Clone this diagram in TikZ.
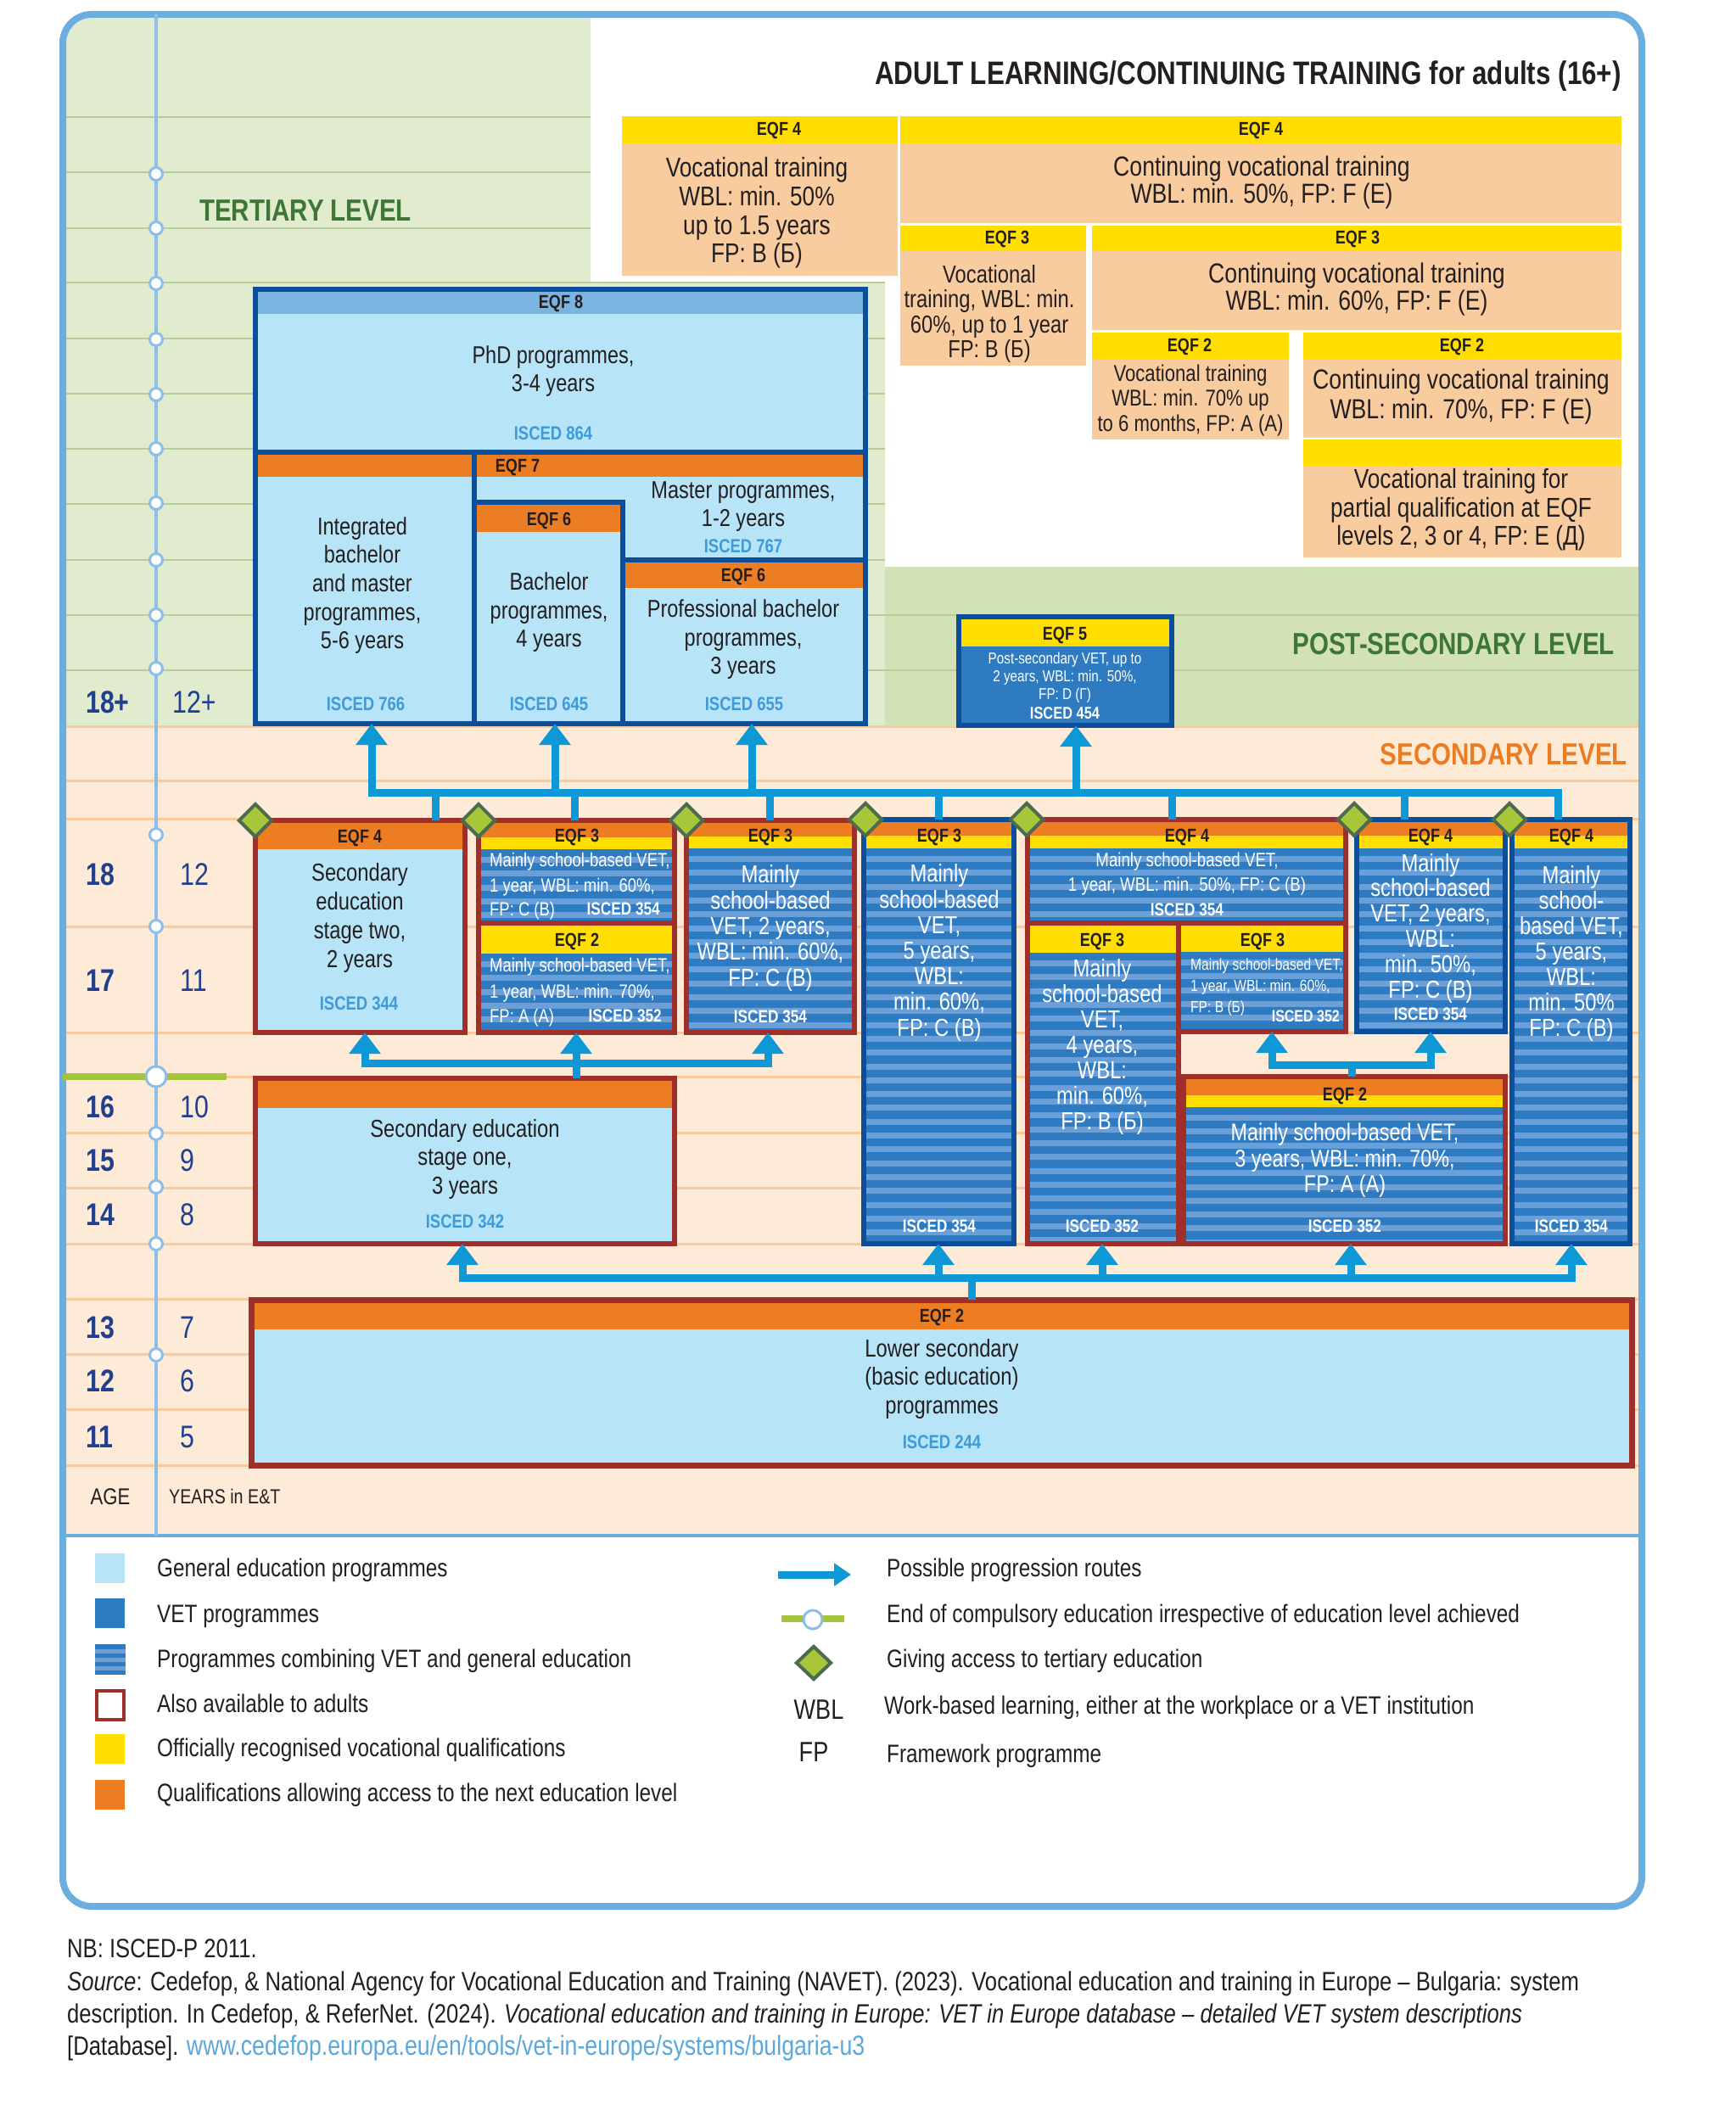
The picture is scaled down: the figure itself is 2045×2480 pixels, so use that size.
\documentclass[tikz,border=0pt]{standalone}
\usepackage{fontspec}
\setmainfont{Liberation Sans}[FakeStretch=0.82]
\usetikzlibrary{arrows.meta,shapes.geometric}

\definecolor{frameblue}{HTML}{6BAEE0}
\definecolor{tertgreen}{HTML}{E1EBCE}
\definecolor{postgreen}{HTML}{D3E2B6}
\definecolor{secpeach}{HTML}{FDEBD7}
\definecolor{gridgreen}{HTML}{B8CC98}
\definecolor{gridpeach}{HTML}{F8CB9F}
\definecolor{axisblue}{HTML}{8DBDE8}
\definecolor{darkblue}{HTML}{0D4E9A}
\definecolor{darkred}{HTML}{9E2F2B}
\definecolor{eqforange}{HTML}{EC7D23}
\definecolor{eqfyellow}{HTML}{FFDE00}
\definecolor{genblue}{HTML}{B8E4F8}
\definecolor{vetblue}{HTML}{2E7BC1}
\definecolor{stripeblue}{HTML}{6A9FD8}
\definecolor{phdblue}{HTML}{7AB4E1}
\definecolor{adultpeach}{HTML}{F8CC9E}
\definecolor{arrowblue}{HTML}{0E99D6}
\definecolor{iscedblue}{HTML}{3C9BD8}
\definecolor{agenavy}{HTML}{203F8F}
\definecolor{levelgreen}{HTML}{3E7635}
\definecolor{levelorange}{HTML}{EC7C23}
\definecolor{diafill}{HTML}{A8C639}
\definecolor{diaborder}{HTML}{4D6B50}
\definecolor{compgreen}{HTML}{A3C43B}
\definecolor{linkblue}{HTML}{5BA8DC}
\definecolor{textblack}{HTML}{231F20}

\newcommand{\fs}[2]{\fontsize{#1}{#2}\selectfont}
\newcommand{\capt}[1]{\raisebox{0pt}[0.716em][0pt]{#1}}
\newcommand{\boxnode}[6]{\node[#1, inner sep=0pt, outer sep=0pt, minimum width={#5-#3}, minimum height={#6-#4}, anchor=north west] (#2) at (#3,#4) {};}
\newcommand{\stripefill}[4]{%
  \begin{scope}
    \clip (#1,#2) rectangle (#3,#4);
    \fill[vetblue] (#1,#2) rectangle (#3,#4);
    \foreach \yy in {0,16.3,...,520}{\fill[stripeblue] (#1,{#2+\yy+9}) rectangle (#3,{#2+\yy+16});}
  \end{scope}}

\begin{document}
\begin{tikzpicture}[x=1pt,y=-1pt,
  bluebox/.style={draw=darkblue, line width=6pt},
  redbox/.style={draw=darkred, line width=6pt},
  eqf/.style={inner sep=0pt, text=textblack, font=\fs{22}{26}\bfseries},
  isced/.style={inner sep=0pt, text=iscedblue, font=\fs{22.5}{26}\bfseries},
  iscedw/.style={inner sep=0pt, text=white, font=\fs{21}{25}\bfseries},
  mtxt/.style={inner sep=0pt, align=center, text=textblack},
  wtxt/.style={inner sep=0pt, align=center, text=white},
  wline/.style={inner sep=0pt, anchor=west, text=white},
  lev/.style={inner sep=0pt, font=\fs{36}{40}\bfseries},
  agen/.style={inner sep=0pt, anchor=west, text=agenavy, font=\fs{37}{40}\bfseries},
  yrs/.style={inner sep=0pt, anchor=west, text=agenavy, font=\fs{37}{40}},
  ring/.style={circle, draw=axisblue, fill=white, line width=3pt, minimum size=15pt, inner sep=0pt},
  bigring/.style={circle, draw=axisblue, fill=white, line width=3pt, minimum size=24pt, inner sep=0pt},
  diam/.style={diamond, draw=diaborder, fill=diafill, line width=4pt, minimum width=40pt, minimum height=40pt, inner sep=0pt},
  conn/.style={draw=arrowblue, line width=9pt},
  arr/.style={conn, -{Triangle[width=36pt,length=25pt]}},
  arrb/.style={conn, {Triangle[width=36pt,length=25pt]}-{Triangle[width=36pt,length=25pt]}},
  legt/.style={inner sep=0pt, anchor=west, text=textblack, font=\fs{29.7}{32}},
  foot/.style={inner sep=0pt, anchor=west, text=textblack, font=\fs{31.3}{34}},
]
\useasboundingbox (0,0) rectangle (2045,2480);
\fill[white] (0,0) rectangle (2045,2480);

% ---------- backgrounds ----------
\begin{scope}
  \clip[rounded corners=34] (74,17) rectangle (1935,2247);
  \fill[tertgreen] (74,17) -- (696,17) -- (696,333) -- (1043,333) -- (1043,856) -- (74,856) -- cycle;
  \fill[postgreen] (1043,668) rectangle (1935,856);
  \fill[secpeach] (74,856) rectangle (1935,1810);
  \foreach \yy in {138,203,269}{\draw[gridgreen, line width=2.5pt] (74,\yy) -- (696,\yy);}
  \foreach \yy in {333,399,464,529,594,660}{\draw[gridgreen, line width=2.5pt] (74,\yy) -- (1043,\yy);}
  \foreach \yy in {725,790}{\draw[gridgreen, line width=2.5pt] (74,\yy) -- (1935,\yy);}
  \foreach \yy in {856,920,965,1092,1217,1269,1335,1400,1466,1531,1596,1661,1727}{\draw[gridpeach, line width=3pt] (74,\yy) -- (1935,\yy);}
\end{scope}
\draw[frameblue, line width=4pt] (74,1810) -- (1935,1810);
\draw[frameblue, line width=8pt, rounded corners=34] (74,17) rectangle (1935,2247);

% ---------- age axis ----------
\draw[axisblue, line width=4pt] (184,17) -- (184,1810);
\draw[compgreen, line width=8pt] (74,1269) -- (267,1269);
\foreach \yy [count=\i] in {205,269,334,400,465,529,593,660,725,788,984,1092,1336,1399,1466,1597}{\node[ring] (ax\i) at (184,\yy) {};}
\node[bigring] (axc) at (184,1269) {};

\node[agen] (a18p) at (101,827) {\capt{18+}};
\node[yrs] (y12p) at (203,827) {\capt{12+}};
\node[agen] (a18) at (101,1030) {\capt{18}};
\node[yrs] (y12) at (212,1030) {\capt{12}};
\node[agen] (a17) at (101,1155) {\capt{17}};
\node[yrs] (y11) at (212,1155) {\capt{11}};
\node[agen] (a16) at (101,1304) {\capt{16}};
\node[yrs] (y10) at (212,1304) {\capt{10}};
\node[agen] (a15) at (101,1367) {\capt{15}};
\node[yrs] (y9) at (212,1367) {\capt{9}};
\node[agen] (a14) at (101,1431) {\capt{14}};
\node[yrs] (y8) at (212,1431) {\capt{8}};
\node[agen] (a13) at (101,1564) {\capt{13}};
\node[yrs] (y7) at (212,1564) {\capt{7}};
\node[agen] (a12) at (101,1627) {\capt{12}};
\node[yrs] (y6) at (212,1627) {\capt{6}};
\node[agen] (a11) at (101,1693) {\capt{11}};
\node[yrs] (y5) at (212,1693) {\capt{5}};
\node[inner sep=0pt, font=\fs{27}{30}, text=textblack] (agehd) at (130,1764) {\capt{AGE}};
\node[inner sep=0pt, anchor=west, font=\fs{24}{28}, text=textblack] (yrshd) at (199,1764) {\capt{YEARS in E\&T}};

% ---------- level titles ----------
\node[lev, text=levelgreen, anchor=west] (tertlab) at (235,248) {\capt{TERTIARY LEVEL}};
\node[lev, text=levelgreen, anchor=east] (postlab) at (1903,759) {\capt{POST-SECONDARY LEVEL}};
\node[lev, text=levelorange, anchor=east] (seclab) at (1918,889) {\capt{SECONDARY LEVEL}};
\node[inner sep=0pt, anchor=east, font=\fs{38.3}{41}\bfseries, text=textblack] (title) at (1911,86) {\capt{ADULT LEARNING/CONTINUING TRAINING for adults (16+)}};

% ---------- adult learning ----------
\boxnode{fill=eqfyellow}{a1h}{733}{137}{1058}{169}
\boxnode{fill=adultpeach}{a1}{733}{169}{1058}{325}
\node[eqf] (a1l) at (918,152) {\capt{EQF 4}};
\node[mtxt, font=\fs{32}{33.7}] (a1t) at (892,251) {Vocational training\\WBL: min. 50\%\\up to 1.5 years\\FP: B (Б)};

\boxnode{fill=eqfyellow}{a2h}{1061}{137}{1911}{169}
\boxnode{fill=adultpeach}{a2}{1061}{169}{1911}{263}
\node[eqf] (a2l) at (1486,152) {\capt{EQF 4}};
\node[mtxt, font=\fs{32.5}{32}] (a2t) at (1487,215) {Continuing vocational training\\WBL: min. 50\%, FP: F (E)};

\boxnode{fill=eqfyellow}{a3h}{1061}{266}{1280}{296}
\boxnode{fill=adultpeach}{a3}{1061}{296}{1280}{431}
\node[eqf] (a3l) at (1187,280) {\capt{EQF 3}};
\node[mtxt, font=\fs{29}{29.5}] (a3t) at (1166,370) {Vocational\\training, WBL: min.\\60\%, up to 1 year\\FP: B (Б)};

\boxnode{fill=eqfyellow}{a4h}{1287}{266}{1911}{296}
\boxnode{fill=adultpeach}{a4}{1287}{296}{1911}{389}
\node[eqf] (a4l) at (1600,280) {\capt{EQF 3}};
\node[mtxt, font=\fs{32.5}{32}] (a4t) at (1599,341) {Continuing vocational training\\WBL: min. 60\%, FP: F (E)};

\boxnode{fill=eqfyellow}{a5h}{1287}{392}{1519}{423}
\boxnode{fill=adultpeach}{a5}{1287}{423}{1519}{518}
\node[eqf] (a5l) at (1402,407) {\capt{EQF 2}};
\node[mtxt, font=\fs{27}{29.5}] (a5t) at (1403,472) {Vocational training\\WBL: min. 70\% up\\to 6 months, FP: A (A)};

\boxnode{fill=eqfyellow}{a6h}{1536}{392}{1911}{423}
\boxnode{fill=adultpeach}{a6}{1536}{423}{1911}{516}
\node[eqf] (a6l) at (1723,407) {\capt{EQF 2}};
\node[mtxt, font=\fs{32.5}{35}] (a6t) at (1722,468) {Continuing vocational training\\WBL: min. 70\%, FP: F (E)};

\boxnode{fill=eqfyellow}{a7h}{1536}{518}{1911}{549}
\boxnode{fill=adultpeach}{a7}{1536}{549}{1911}{657}
\node[mtxt, font=\fs{32}{33.5}] (a7t) at (1722,601) {Vocational training for\\partial qualification at EQF\\levels 2, 3 or 4, FP: E (Д)};

% ---------- tertiary ----------
\fill[genblue] (301,341) rectangle (1020,853);
\fill[phdblue] (301,341) rectangle (1020,370);
\fill[eqforange] (301,533) rectangle (1020,562);
\fill[eqforange] (559,592) rectangle (734,627);
\fill[eqforange] (734,660) rectangle (1020,693);
\boxnode{bluebox}{tert}{301}{341}{1020}{853}
\draw[darkblue, line width=6pt] (301,533) -- (1020,533);
\draw[darkblue, line width=6pt] (559,533) -- (559,853);
\boxnode{bluebox}{bach}{559}{592}{734}{853}
\boxnode{bluebox}{prof}{734}{660}{1020}{853}
\node[eqf] (t8l) at (661,356) {\capt{EQF 8}};
\node[mtxt, font=\fs{28.7}{33}] (phdt) at (652,438) {PhD programmes,\\3-4 years};
\node[isced] (t864) at (652,510) {\capt{ISCED 864}};
\node[eqf] (t7l) at (610,549) {\capt{EQF 7}};
\node[mtxt, font=\fs{28.7}{33.7}] (intt) at (427,690) {Integrated\\bachelor\\and master\\programmes,\\5-6 years};
\node[isced] (t766) at (431,829) {\capt{ISCED 766}};
\node[eqf] (t6al) at (647,612) {\capt{EQF 6}};
\node[mtxt, font=\fs{28.7}{33.5}] (bacht) at (647,722) {Bachelor\\programmes,\\4 years};
\node[isced] (t645) at (647,829) {\capt{ISCED 645}};
\node[mtxt, font=\fs{28.7}{33}] (mastt) at (876,597) {Master programmes,\\1-2 years};
\node[isced] (t767) at (876,643) {\capt{ISCED 767}};
\node[eqf] (t6bl) at (876,678) {\capt{EQF 6}};
\node[mtxt, font=\fs{28.7}{33.5}] (proft) at (876,754) {Professional bachelor\\programmes,\\3 years};
\node[isced] (t655) at (877,829) {\capt{ISCED 655}};

% ---------- post-secondary ----------
\fill[vetblue] (1130,727) rectangle (1381,855);
\fill[eqfyellow] (1130,727) rectangle (1381,762);
\boxnode{bluebox}{eqf5}{1130}{727}{1381}{855}
\node[eqf] (e5l) at (1255,747) {\capt{EQF 5}};
\node[wtxt, font=\fs{18.6}{21}] (e5t) at (1255,799) {Post-secondary VET, up to\\2 years, WBL: min. 50\%,\\FP: D (Г)};
\node[iscedw, font=\fs{20}{24}\bfseries] (e5i) at (1255,840) {\capt{ISCED 454}};

% ---------- upper secondary ----------
% A
\fill[genblue] (301,967) rectangle (548,1217);
\fill[eqforange] (301,967) rectangle (548,1001);
\boxnode{redbox}{boxA}{301}{967}{548}{1217}
\node[eqf] (bAl) at (424,986) {\capt{EQF 4}};
\node[mtxt, font=\fs{29}{33.7}] (bAt) at (424,1082) {Secondary\\education\\stage two,\\2 years};
\node[isced] (bAi) at (423,1182) {\capt{ISCED 344}};
% B
\stripefill{564}{1001}{795}{1088}
\stripefill{564}{1124}{795}{1217}
\fill[eqforange] (564,967) rectangle (795,987);
\fill[eqfyellow] (564,987) rectangle (795,1001);
\fill[eqfyellow] (564,1088) rectangle (795,1124);
\boxnode{redbox}{boxB}{564}{967}{795}{1217}
\draw[darkred, line width=6pt] (564,1088) -- (795,1088);
\node[eqf] (bBl1) at (680,985) {\capt{EQF 3}};
\node[wline, font=\fs{22.5}{26}] (bBt1) at (577,1013) {\capt{Mainly school-based VET,}};
\node[wline, font=\fs{22.5}{26}] (bBt2) at (577,1043) {\capt{1 year, WBL: min. 60\%,}};
\node[wline, font=\fs{22.5}{26}] (bBt3) at (577,1071) {\capt{FP: C (B)}};
\node[iscedw, anchor=east] (bBi1) at (778,1071) {\capt{ISCED 354}};
\node[eqf] (bBl2) at (680,1108) {\capt{EQF 2}};
\node[wline, font=\fs{22.5}{26}] (bBt4) at (577,1137) {\capt{Mainly school-based VET,}};
\node[wline, font=\fs{22.5}{26}] (bBt5) at (577,1168) {\capt{1 year, WBL: min. 70\%,}};
\node[wline, font=\fs{22.5}{26}] (bBt6) at (577,1197) {\capt{FP: A (A)}};
\node[iscedw, anchor=east] (bBi2) at (780,1197) {\capt{ISCED 352}};
% C
\stripefill{809}{1000}{1007}{1217}
\fill[eqforange] (809,967) rectangle (1007,986);
\fill[eqfyellow] (809,986) rectangle (1007,1000);
\boxnode{redbox}{boxC}{809}{967}{1007}{1217}
\node[eqf] (bCl) at (908,985) {\capt{EQF 3}};
\node[wtxt, font=\fs{29}{30.3}] (bCt) at (908,1094) {Mainly\\school-based\\VET, 2 years,\\WBL: min. 60\%,\\FP: C (B)};
\node[iscedw] (bCi) at (908,1198) {\capt{ISCED 354}};
% D
\stripefill{1018}{1000}{1195}{1466}
\fill[eqforange] (1018,966) rectangle (1195,985);
\fill[eqfyellow] (1018,985) rectangle (1195,1000);
\boxnode{bluebox}{boxD}{1018}{966}{1195}{1466}
\node[eqf] (bDl) at (1107,985) {\capt{EQF 3}};
\node[wtxt, font=\fs{29}{30.2}] (bDt) at (1107,1123) {Mainly\\school-based\\VET,\\5 years,\\WBL:\\min. 60\%,\\FP: C (B)};
\node[iscedw] (bDi) at (1107,1445) {\capt{ISCED 354}};
% E
\stripefill{1211}{1000}{1586}{1088}
\fill[eqforange] (1211,966) rectangle (1586,985);
\fill[eqfyellow] (1211,985) rectangle (1586,1000);
\stripefill{1211}{1123}{1389}{1466}
\fill[eqfyellow] (1211,1088) rectangle (1389,1123);
\stripefill{1389}{1122}{1586}{1216}
\fill[eqfyellow] (1389,1088) rectangle (1586,1122);
\boxnode{redbox}{boxE}{1211}{966}{1586}{1088}
\boxnode{redbox}{boxEa}{1211}{1088}{1389}{1466}
\boxnode{redbox}{boxEb}{1389}{1088}{1586}{1216}
\node[eqf] (bEl) at (1399,985) {\capt{EQF 4}};
\node[wtxt, font=\fs{22.8}{29}] (bEt) at (1399,1030) {Mainly school-based VET,\\1 year, WBL: min. 50\%, FP: C (B)};
\node[iscedw] (bEi) at (1399,1072) {\capt{ISCED 354}};
\node[eqf] (bEal) at (1299,1108) {\capt{EQF 3}};
\node[wtxt, font=\fs{29}{30}] (bEat) at (1299,1234) {Mainly\\school-based\\VET,\\4 years,\\WBL:\\min. 60\%,\\FP: B (Б)};
\node[iscedw] (bEai) at (1299,1445) {\capt{ISCED 352}};
\node[eqf] (bEbl) at (1488,1108) {\capt{EQF 3}};
\node[wline, font=\fs{19}{22}] (bEbt1) at (1403,1137) {\capt{Mainly school-based VET,}};
\node[wline, font=\fs{19}{22}] (bEbt2) at (1403,1162) {\capt{1 year, WBL: min. 60\%,}};
\node[wline, font=\fs{19}{22}] (bEbt3) at (1403,1187) {\capt{FP: B (Б)}};
\node[iscedw, anchor=east, font=\fs{19.5}{22}\bfseries] (bEbi) at (1579,1198) {\capt{ISCED 352}};
% F
\stripefill{1599}{1000}{1774}{1216}
\fill[eqforange] (1599,966) rectangle (1774,985);
\fill[eqfyellow] (1599,985) rectangle (1774,1000);
\boxnode{bluebox}{boxF}{1599}{966}{1774}{1216}
\node[eqf] (bFl) at (1686,985) {\capt{EQF 4}};
\node[wtxt, font=\fs{29}{29.8}] (bFt) at (1686,1094) {Mainly\\school-based\\VET, 2 years,\\WBL:\\min. 50\%,\\FP: C (B)};
\node[iscedw] (bFi) at (1686,1195) {\capt{ISCED 354}};
% G
\stripefill{1782}{1000}{1921}{1466}
\fill[eqforange] (1782,966) rectangle (1921,985);
\fill[eqfyellow] (1782,985) rectangle (1921,1000);
\boxnode{bluebox}{boxG}{1782}{966}{1921}{1466}
\node[eqf] (bGl) at (1852,985) {\capt{EQF 4}};
\node[wtxt, font=\fs{29}{30}] (bGt) at (1852,1124) {Mainly\\school-\\based VET,\\5 years,\\WBL:\\min. 50\%\\FP: C (B)};
\node[iscedw] (bGi) at (1852,1445) {\capt{ISCED 354}};
% H
\stripefill{1395}{1305}{1774}{1466}
\fill[eqforange] (1395,1269) rectangle (1774,1291);
\fill[eqfyellow] (1395,1291) rectangle (1774,1305);
\boxnode{redbox}{boxH}{1395}{1269}{1774}{1466}
\node[eqf] (bHl) at (1585,1290) {\capt{EQF 2}};
\node[wtxt, font=\fs{28.5}{30.5}] (bHt) at (1585,1368) {Mainly school-based VET,\\3 years, WBL: min. 70\%,\\FP: A (A)};
\node[iscedw] (bHi) at (1585,1445) {\capt{ISCED 352}};

% ---------- lower secondary stage one ----------
\fill[genblue] (301,1271) rectangle (795,1466);
\fill[eqforange] (301,1271) rectangle (795,1306);
\boxnode{redbox}{sone}{301}{1271}{795}{1466}
\node[mtxt, font=\fs{29}{33.5}] (sonet) at (548,1366) {Secondary education\\stage one,\\3 years};
\node[isced] (sonei) at (548,1439) {\capt{ISCED 342}};

% ---------- lower secondary ----------
\fill[genblue] (296,1532) rectangle (1923,1727);
\fill[eqforange] (296,1532) rectangle (1923,1567);
\node[draw=darkred, line width=7pt, inner sep=0pt, outer sep=0pt, minimum width=1627pt, minimum height=195pt, anchor=north west] (lowsec) at (296,1532) {};
\node[eqf] (lowl) at (1110,1551) {\capt{EQF 2}};
\node[mtxt, font=\fs{29}{33.5}] (lowt) at (1110,1625) {Lower secondary\\(basic education)\\programmes};
\node[isced] (lowi) at (1110,1699) {\capt{ISCED 244}};

% ---------- connectors ----------
\coordinate (uL) at (438,934);
\coordinate (u2) at (654,934);
\coordinate (u3) at (886,934);
\coordinate (u4) at (1268,934);
\coordinate (uR) at (1836,934);
\draw[arr] (uR |- boxG.north) -- (uR) -- (uL) -- (uL |- tert.south);
\draw[arr] (u2) -- (u2 |- tert.south);
\draw[arr] (u3) -- (u3 |- tert.south);
\draw[arr] (u4) -- (u4 |- eqf5.south);
\coordinate (d1) at (513,934);
\coordinate (d2) at (677,934);
\coordinate (d3) at (907,934);
\coordinate (d4) at (1106,934);
\coordinate (d5) at (1381,934);
\coordinate (d6) at (1655,934);
\draw[conn] (d1) -- (d1 |- boxA.north);
\draw[conn] (d2) -- (d2 |- boxB.north);
\draw[conn] (d3) -- (d3 |- boxC.north);
\draw[conn] (d4) -- (d4 |- boxD.north);
\draw[conn] (d5) -- (d5 |- boxE.north);
\draw[conn] (d6) -- (d6 |- boxF.north);
\coordinate (m1) at (430,1253);
\coordinate (m2) at (679,1253);
\coordinate (m3) at (905,1253);
\draw[arrb] (m1 |- boxA.south) -- (m1) -- (m3) -- (m3 |- boxC.south);
\draw[arr] (m2 |- sone.north) -- (m2 |- boxB.south);
\coordinate (h1) at (1499,1255);
\coordinate (hs) at (1593,1255);
\coordinate (h2) at (1686,1255);
\draw[arrb] (h1 |- boxEb.south) -- (h1) -- (h2) -- (h2 |- boxF.south);
\draw[conn] (hs |- boxH.north) -- (hs);
\coordinate (l1) at (545,1506);
\coordinate (l2) at (1106,1506);
\coordinate (l3) at (1299,1506);
\coordinate (l4) at (1592,1506);
\coordinate (l5) at (1852,1506);
\coordinate (ls) at (1145,1506);
\draw[arrb] (l1 |- sone.south) -- (l1) -- (l5) -- (l5 |- boxG.south);
\draw[arr] (l2) -- (l2 |- boxD.south);
\draw[arr] (l3) -- (l3 |- boxEa.south);
\draw[arr] (l4) -- (l4 |- boxH.south);
\draw[conn] (ls |- lowsec.north) -- (ls);

% diamonds
\node[diam] (dm1) at (301,967) {};
\node[diam] (dm2) at (564,967) {};
\node[diam] (dm3) at (809,967) {};
\node[diam] (dm4) at (1020,966) {};
\node[diam] (dm5) at (1210,966) {};
\node[diam] (dm6) at (1596,966) {};
\node[diam] (dm7) at (1779,966) {};

% ---------- legend ----------
\boxnode{fill=genblue}{lg1}{112}{1831}{147}{1866}
\boxnode{fill=vetblue}{lg2}{112}{1884}{147}{1919}
\fill[vetblue] (112,1938) rectangle (148,1974);
\foreach \k in {0,1,2}{\fill[stripeblue] (112,{1944+10*\k}) rectangle (148,{1948.5+10*\k});}
\boxnode{}{lg3}{112}{1938}{148}{1974}
\boxnode{draw=darkred, line width=4pt, fill=white}{lg4}{114}{1993}{146}{2027}
\boxnode{fill=eqfyellow}{lg5}{112}{2044}{147}{2079}
\boxnode{fill=eqforange}{lg6}{112}{2098}{147}{2133}
\node[legt] (lt1) at (185,1848) {\capt{General education programmes}};
\node[legt] (lt2) at (185,1902) {\capt{VET programmes}};
\node[legt] (lt3) at (185,1955) {\capt{Programmes combining VET and general education}};
\node[legt] (lt4) at (185,2008) {\capt{Also available to adults}};
\node[legt] (lt5) at (185,2060) {\capt{Officially recognised vocational qualifications}};
\node[legt] (lt6) at (185,2113) {\capt{Qualifications allowing access to the next education level}};

\coordinate (la1) at (917,1856);
\coordinate (la2) at (1003,1856);
\draw[conn, -{Triangle[width=26pt,length=20pt]}] (la1) -- (la2);
\draw[compgreen, line width=8pt] (921,1908) -- (995,1908);
\node[circle, draw=axisblue, fill=white, line width=3pt, minimum size=22pt, inner sep=0pt] (lgc) at (958,1909) {};
\node[diam, minimum width=42pt] (lgd) at (959,1960) {};
\node[inner sep=0pt, font=\fs{33}{36}, text=textblack] (lgw) at (965,2015) {\capt{WBL}};
\node[inner sep=0pt, font=\fs{33}{36}, text=textblack] (lgf) at (959,2065) {\capt{FP}};
\node[legt] (rt1) at (1045,1848) {\capt{Possible progression routes}};
\node[legt] (rt2) at (1045,1902) {\capt{End of compulsory education irrespective of education level achieved}};
\node[legt] (rt3) at (1045,1955) {\capt{Giving access to tertiary education}};
\node[legt] (rt4) at (1042,2010) {\capt{Work-based learning, either at the workplace or a VET institution}};
\node[legt] (rt5) at (1045,2067) {\capt{Framework programme}};

% ---------- footer ----------
\node[foot] (f1) at (79,2296) {\capt{NB: ISCED-P 2011.}};
\node[foot] (f2) at (79,2335) {\capt{\textit{Source}: Cedefop, \& National Agency for Vocational Education and Training (NAVET). (2023). Vocational education and training in Europe – Bulgaria: system}};
\node[foot] (f3) at (79,2373) {\capt{description. In Cedefop, \& ReferNet. (2024). \textit{Vocational education and training in Europe: VET in Europe database – detailed VET system descriptions}}};
\node[foot] (f4) at (79,2411) {\capt{[Database]. {\fontsize{32.6}{34}\selectfont\textcolor{linkblue}{www.cedefop.europa.eu/en/tools/vet-in-europe/systems/bulgaria-u3}}}};
\end{tikzpicture}
\end{document}
